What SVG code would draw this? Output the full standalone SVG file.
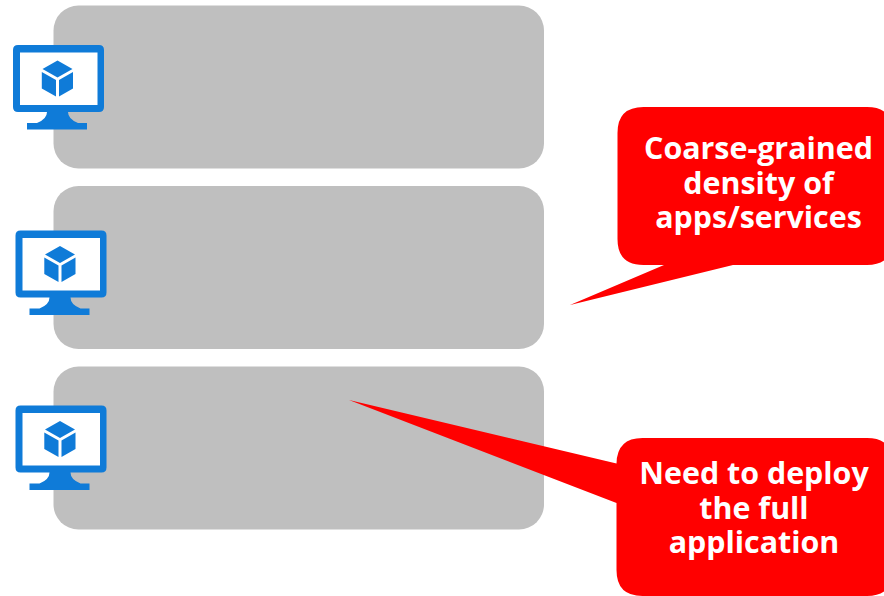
<svg xmlns="http://www.w3.org/2000/svg" width="884" height="596" viewBox="0 0 884 596">
<style>
.panel{fill:#bfbfbf}
.bubble{fill:#ff0000}
.t{font-family:"Open Sans","Noto Sans","Liberation Sans",sans-serif;font-weight:700;font-size:30.4px;fill:#fff;text-anchor:middle}
.blue{fill:#0f7bd8}
</style>
<defs>
<g id="vm">
<path class="blue" d="M18 45H99Q104 45 104 50V107Q104 112 99 112H68Q68 119 78 123H87V129.500H27V123H37Q47 119 47 112H18Q13 112 13 107V50Q13 45 18 45Z"/>
<rect x="20" y="52.500" width="77.500" height="52.500" fill="#fff"/>
<path class="blue" d="M57.500 60.500L72.500 69L57.500 77.500L42.500 69ZM41.800 72L56 80V96.500L41.800 88.500ZM73 72V88.500L59 96.500V80Z"/>
</g>
</defs>
<g id="panel-1"><rect class="panel" x="53.500" y="5.500" width="490.500" height="163" rx="25"/></g>
<g id="panel-2"><rect class="panel" x="53.500" y="186" width="490.500" height="163" rx="25"/></g>
<g id="panel-3"><rect class="panel" x="53.500" y="366.500" width="490.500" height="163" rx="25"/></g>
<g id="vm-1"><use href="#vm"/></g>
<g id="vm-2"><use href="#vm" x="2.500" y="185.500"/></g>
<g id="vm-3"><use href="#vm" x="2.500" y="360.500"/></g>
<g id="callout-1">
<path class="bubble" d="M643.500 107H867Q893 107 893 133V239Q893 265 867 265H733L570 305L664 265H643.500Q617.500 265 617.500 239V133Q617.500 107 643.500 107Z"/>
<text class="t" x="758.500" y="158.500">Coarse-grained</text>
<text class="t" x="758.500" y="193.500">density of</text>
<text class="t" x="758.500" y="228">apps/services</text>
</g>
<g id="callout-2">
<path class="bubble" d="M642.500 438H867Q893 438 893 464V570Q893 596 867 596H642.500Q616.500 596 616.500 570V503L349 400L616.500 463.500Q617 438 642.500 438Z"/>
<text class="t" x="754" y="484">Need to deploy</text>
<text class="t" x="754" y="518.500">the full</text>
<text class="t" x="754" y="552.500">application</text>
</g>
</svg>
